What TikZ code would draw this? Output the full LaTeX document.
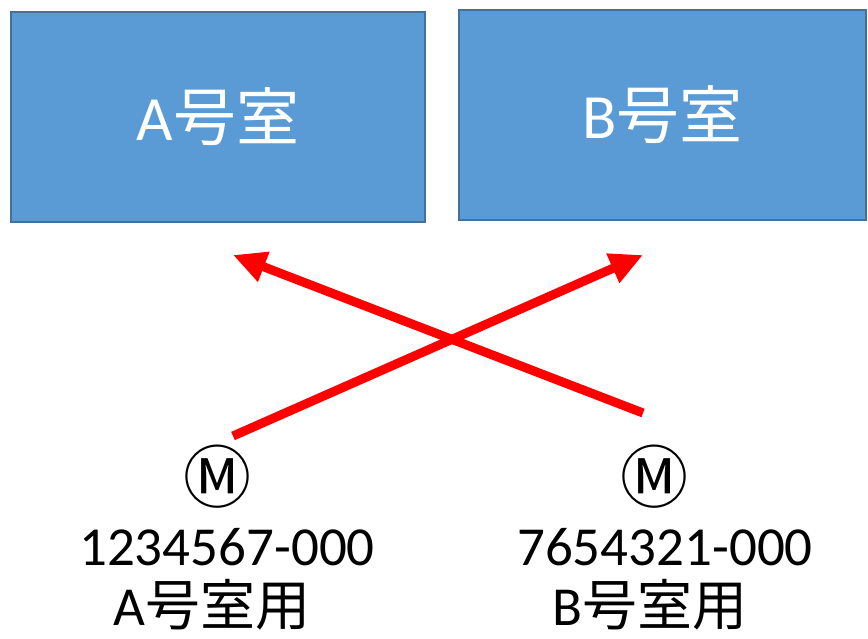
\documentclass[tikz,border=0pt]{standalone}
\usepackage{fontspec}
\setmainfont{Carlito}
\newfontfamily\jpfont{Noto Sans CJK JP}
\usetikzlibrary{arrows.meta,positioning}
\definecolor{roomfill}{HTML}{5B9BD5}
\definecolor{roomedge}{HTML}{41719C}
\definecolor{flowred}{HTML}{FF0000}

\begin{document}
\begin{tikzpicture}[x=1pt,y=1pt,
    room/.style={draw=roomedge,fill=roomfill,line width=2pt,minimum height=210pt,
        inner sep=0pt,text=white,font=\fontsize{63}{70}\selectfont},
    meter/.style={inner sep=0pt,font=\jpfont\fontsize{68}{74}\selectfont},
    tag/.style={inner sep=0pt,font=\fontsize{55}{60}\selectfont},
    flow/.style={draw=flowred,line width=9pt,-{Triangle[length=33pt,width=30pt]}}]
   \useasboundingbox (0,0) rectangle (868,638);
   % rooms
   \node[room,minimum width=414pt] (A) at (218,521) {A\jpfont 号室};
   \node[room,minimum width=407pt] (B) at (662.5,523) {B\jpfont 号室};
   % meters
   \node[meter] (mA) at (217,161) {Ⓜ};
   \node[meter] (mB) at (654,161) {Ⓜ};
   \node[tag] (nA) at (227,91) {1234567-000};
   \node[tag] (nB) at (665,91) {7654321-000};
   \node[tag] (uA) at (212,33) {A\jpfont 号室用};
   \node[tag] (uB) at (650,33) {B\jpfont 号室用};
   % arrow ends
   \coordinate (sA) at (233,202);
   \coordinate (tA) at (643,383);
   \coordinate (sB) at (643,225);
   \coordinate (tB) at (233,383);
   \draw[flow] (sA) -- (tA);
   \draw[flow] (sB) -- (tB);
\end{tikzpicture}
\end{document}
